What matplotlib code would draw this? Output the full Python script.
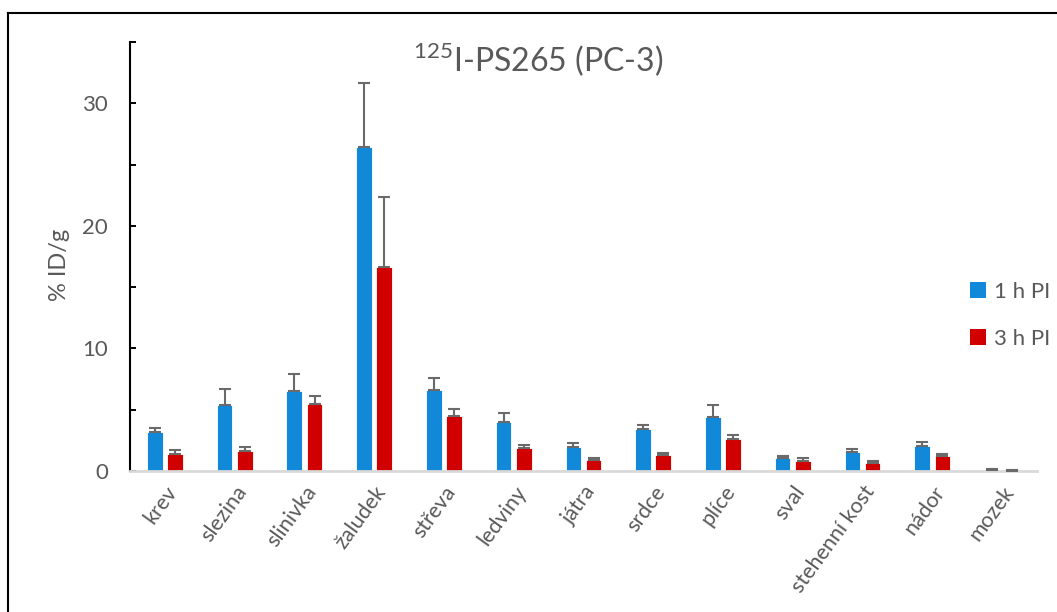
import numpy as np
import matplotlib.pyplot as plt
from matplotlib.lines import Line2D
from matplotlib.patches import Patch
from matplotlib.ticker import MultipleLocator

plt.rcParams['font.family'] = ['Lato', 'DejaVu Sans']
plt.rcParams['mathtext.fontset'] = 'custom'
plt.rcParams['mathtext.rm'] = 'Lato'

# data (% ID/g, mean and upper error)
organs = ["krev", "slezina", "slinivka", "žaludek", "střeva", "ledviny", "játra",
          "srdce", "plíce", "sval", "stehenní kost", "nádor", "mozek"]
mean_1h = [3.19, 5.37, 6.49, 26.47, 6.62, 4.03, 1.94, 3.41, 4.44, 1.04, 1.58, 2.04, 0.08]
err_1h = [0.30, 1.28, 1.39, 5.17, 0.93, 0.74, 0.32, 0.38, 0.96, 0.21, 0.24, 0.36, 0.11]
mean_3h = [1.42, 1.66, 5.50, 16.66, 4.47, 1.88, 0.93, 1.28, 2.59, 0.79, 0.65, 1.20, 0.04]
err_3h = [0.32, 0.30, 0.60, 5.69, 0.57, 0.25, 0.16, 0.22, 0.35, 0.30, 0.19, 0.22, 0.04]
series_names = ["1 h PI", "3 h PI"]

blue = "#1288d8"
red = "#d00000"
grey = "#595959"

fig = plt.figure(figsize=(10.57, 6.12), dpi=100)
ax = fig.add_axes([0.123, 0.2304, 0.858, 0.701])

x = np.arange(len(organs))
w = 0.225
off = 0.145
for means, errs, col, sgn in [(mean_1h, err_1h, blue, -1), (mean_3h, err_3h, red, 1)]:
    ax.bar(x + sgn * off, means, w, color=col, edgecolor="white", linewidth=0.6, zorder=2)
    ax.errorbar(x + sgn * off, means, yerr=[np.zeros(len(means)), errs], fmt="none",
                ecolor="#6a6a6a", elinewidth=1.5, capsize=4.5, capthick=1.5, zorder=3)

ax.set_xlim(-0.5, len(organs) - 0.5)
ax.set_ylim(0, 35)
ax.yaxis.set_major_locator(MultipleLocator(10))
ax.yaxis.set_minor_locator(MultipleLocator(5))
ax.tick_params(axis="y", which="both", direction="in", length=4.5, width=1.4,
               colors="black", labelcolor=grey, labelsize=16, pad=16)
ax.tick_params(axis="x", length=0, labelcolor=grey, labelsize=15.5, pad=8)
ax.set_xticks(x)
ax.set_xticklabels(organs, rotation=54, ha="right", va="top", rotation_mode="anchor")

for s in ["top", "right"]:
    ax.spines[s].set_visible(False)
ax.spines["left"].set_linewidth(1.5)
ax.spines["bottom"].set_color("#d9d9d9")
ax.spines["bottom"].set_linewidth(2)

ax.set_ylabel("% ID/g", color=grey, fontsize=17)
ax.yaxis.set_label_coords(-0.066, 0.48)

ax.text(0.45, 0.958, r"$^{\mathrm{125}}$I-PS265 (PC-3)", transform=ax.transAxes,
        ha="center", va="center", fontsize=23, color=grey)

handles = [Patch(facecolor=blue), Patch(facecolor=red)]
fig.legend(handles, series_names, loc="center left", bbox_to_anchor=(0.899, 0.485),
           frameon=False, fontsize=16, labelcolor=grey, handlelength=0.7,
           handleheight=0.7, handletextpad=0.35, labelspacing=1.2)

# outer frame (only top and left edges visible)
fig.add_artist(Line2D([0.0076, 1.0], [0.9788, 0.9788], color="black", lw=1.5,
                      transform=fig.transFigure))
fig.add_artist(Line2D([0.0076, 0.0076], [0.0, 0.9788], color="black", lw=1.5,
                      transform=fig.transFigure))

fig.savefig("out.png", dpi=100)
